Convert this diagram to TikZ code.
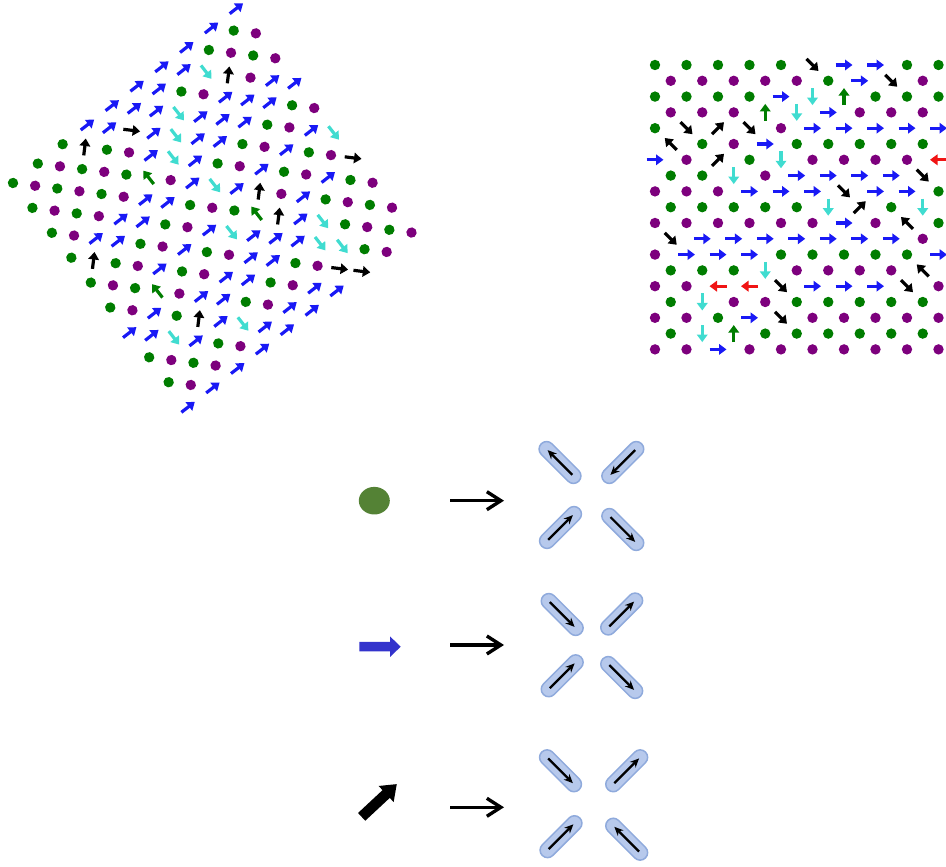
\documentclass[tikz,border=0pt]{standalone}
\usetikzlibrary{arrows.meta,shapes.geometric}

\definecolor{sitegreen}{RGB}{0,125,0}
\definecolor{sitepurple}{RGB}{125,0,125}
\definecolor{spinblue}{RGB}{25,25,245}
\definecolor{spincyan}{RGB}{64,220,208}
\definecolor{spinred}{RGB}{240,20,20}
\definecolor{dotolive}{RGB}{84,130,53}
\definecolor{blockblue}{RGB}{51,51,204}
\definecolor{capfill}{RGB}{183,201,236}
\definecolor{capline}{RGB}{143,170,220}

\tikzset{
  spin/.style={line width=3.2pt,-{Triangle[length=7.5pt,width=10.5pt]}},
  capsule/.style={draw=capline,fill=capfill,line width=1.5pt,rounded corners=7.5pt,
    minimum width=53pt,minimum height=15pt,inner sep=0pt,outer sep=0pt},
  capspin/.style={line width=2.2pt,-{Stealth[length=9pt,width=8pt]},
    shorten <=9pt,shorten >=9pt},
  maparrow/.style={line width=3.4pt,-{Straight Barb[length=14pt,width=18pt]}},
}

% one site of the lattice
\newcommand\siteG{\fill[sitegreen] (0,0) circle (5.2);}
\newcommand\siteP{\fill[sitepurple] (0,0) circle (5.2);}
\newcommand\siteB{\draw[spin,spinblue] (-8.5,0) -- (8.5,0);}
\newcommand\siteC{\draw[spin,spincyan] (0,8.5) -- (0,-8.5);}
\newcommand\siteE{\draw[spin,sitegreen] (0,-8.5) -- (0,8.5);}
\newcommand\siteR{\draw[spin,spinred] (8.5,0) -- (-8.5,0);}
\newcommand\siteA{\draw[spin,black] (-6,-6) -- (6,6);}
\newcommand\siteD{\draw[spin,black] (-6,6) -- (6,-6);}
\newcommand\siteQ{\draw[spin,black] (6,-6) -- (-6,6);}

\newcommand\drawlattice[1]{%
  \foreach \row [count=\ri from 0] in {#1} {%
    \foreach \s [count=\ci from 0] in \row {%
      \begin{scope}[shift={({\ci*31.5+mod(\ri,2)*15.75},{-\ri*15.8})}]
        \csname site\s\endcsname
      \end{scope}
    }%
  }%
}

\begin{document}
\begin{tikzpicture}[x=1pt,y=1pt]
\useasboundingbox (0,0) rectangle (946,867);

% left patch, turned
\begin{scope}[shift={(13,684)},rotate=38]
\drawlattice{%
{G,G,G,B,B,B,B,B,B,B},%
{P,P,A,B,B,B,B,G,G},%
{G,G,G,G,D,B,G,C,P,P},%
{P,P,P,P,B,C,P,A,G},%
{G,G,G,G,B,C,B,B,P,P},%
{P,P,P,E,C,B,B,B,B},%
{G,B,B,B,P,B,B,B,B,B},%
{A,B,B,B,B,G,G,G,G},%
{G,G,G,G,G,C,P,P,P,P},%
{P,P,P,P,P,B,B,B,B},%
{G,G,B,B,B,G,A,G,G,C},%
{P,E,G,G,C,E,P,P,P},%
{B,B,P,P,P,B,A,B,B,D},%
{B,G,B,B,B,B,B,G,G},%
{G,C,A,B,B,B,B,C,P,P},%
{P,B,B,G,G,G,C,G,G},%
{G,G,G,C,P,P,P,C,P,P},%
{P,P,P,B,B,B,D,G,G},%
{B,B,B,B,B,B,B,D,P,P}}
\end{scope}

% right patch
\begin{scope}[shift={(655,802)}]
\drawlattice{%
{G,G,G,G,G,D,B,B,G,G},%
{P,P,P,P,P,G,B,D,P},%
{G,G,G,G,B,C,E,G,G,G},%
{P,P,P,E,C,B,P,P,P},%
{G,D,A,D,P,B,B,B,B,B},%
{Q,G,P,B,G,G,G,G,G},%
{B,P,A,G,C,P,P,P,P,R},%
{G,G,C,P,B,B,B,B,D},%
{P,P,P,B,B,B,D,B,B,G},%
{G,G,G,G,G,C,A,G,C},%
{P,P,P,P,P,P,B,P,Q,G},%
{D,B,B,B,B,B,B,B,P},%
{P,B,B,B,G,G,G,G,G,B},%
{G,G,G,C,P,P,P,P,Q},%
{P,P,R,R,D,B,B,B,D,P},%
{G,C,P,P,G,G,G,G,G},%
{P,P,G,B,D,P,P,P,P,P},%
{G,C,E,G,G,G,G,G,G},%
{P,P,B,P,P,P,P,P,P,P}}
\end{scope}

% legend glyphs
\node[ellipse,fill=dotolive,minimum width=31pt,minimum height=27.6pt,inner sep=0pt] (legdot) at (374.3,366.3) {};
\fill[blockblue] (359.3,215.5) -- (390,215.5) -- (390,210) -- (400.7,220.3) -- (390,230.6) -- (390,225.1) -- (359.3,225.1) -- cycle;
\begin{scope}[shift={(379.2,66.5)},rotate=43]
\fill (-24,-5.3) -- (9.5,-5.3) -- (9.5,-11) -- (24,0) -- (9.5,11) -- (9.5,5.3) -- (-24,5.3) -- cycle;
\end{scope}

% maps
\coordinate (in1) at (450,366.3);
\coordinate (out1) at (504,366.3);
\coordinate (in2) at (450,222);
\coordinate (out2) at (504,222);
\coordinate (in3) at (450,59.7);
\coordinate (out3) at (504,59.7);
\draw[maparrow] (in1) -- (out1);
\draw[maparrow] (in2) -- (out2);
\draw[maparrow] (in3) -- (out3);

% dimers
\foreach \n/\x/\y/\a/\p/\q in {%
  a1/560/404.5/-45/east/west, a2/622.8/404.5/45/east/west,
  a3/560.5/339.5/45/west/east, a4/622.8/337.5/-45/west/east,
  b1/562.2/252.5/-45/west/east, b2/621.7/253/45/west/east,
  b3/562.2/191.2/45/west/east, b4/621.7/189.5/-45/west/east,
  c1/560.5/96.2/-45/west/east, c2/626.7/96.2/45/west/east,
  c3/561/30.3/45/west/east, c4/626.7/27.8/-45/east/west}{
  \node[capsule,rotate=\a] (\n) at (\x,\y) {};
  \draw[capspin] (\n.\p) -- (\n.\q);
}
\end{tikzpicture}
\end{document}
